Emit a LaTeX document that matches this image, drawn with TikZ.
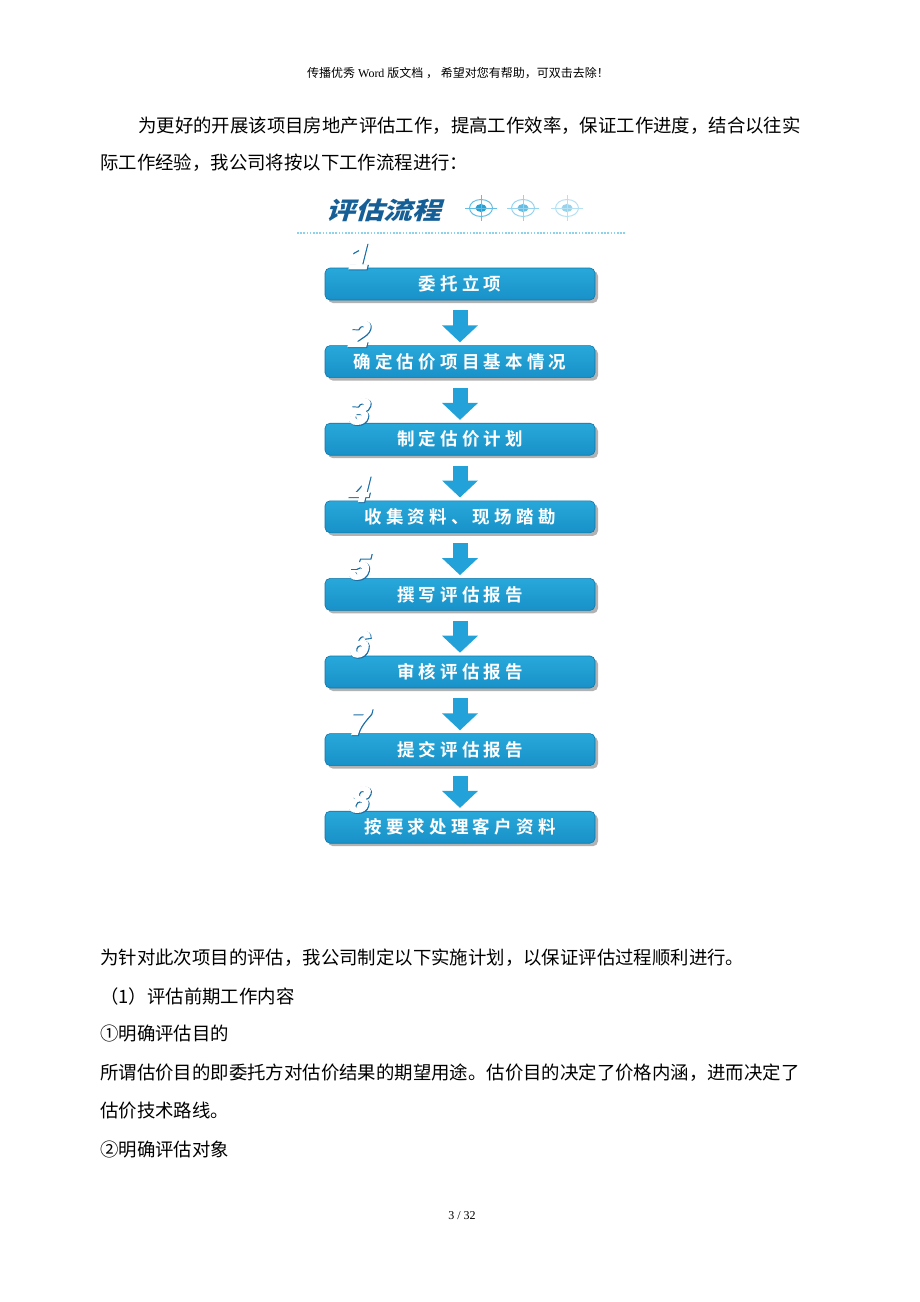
\documentclass[tikz,border=0pt]{standalone}
\usepackage{fontspec}
\setmainfont{Liberation Serif}
\newfontfamily\cjk{Noto Sans CJK SC}
\newfontfamily\cjkbox[LetterSpace=24]{Noto Sans CJK SC Bold}
\newfontfamily\cjktitle[FakeSlant=0.3,FakeStretch=1.2]{Noto Sans CJK SC Black}
\newfontfamily\numfill[FakeSlant=0.25,FakeBold=4]{Liberation Sans Bold}
\newfontfamily\numedge[FakeSlant=0.25,FakeBold=5.2]{Liberation Sans Bold}
\usetikzlibrary{arrows.meta,shadows,positioning}

\definecolor{titleblue}{RGB}{22,95,150}
\definecolor{boxtop}{RGB}{40,168,218}
\definecolor{boxbot}{RGB}{24,145,200}
\definecolor{boxedge}{RGB}{16,118,168}
\definecolor{arrowblue}{RGB}{35,162,218}
\definecolor{numblue}{RGB}{25,110,165}
\definecolor{dotblue}{RGB}{140,210,235}
\definecolor{iconA}{RGB}{40,160,210}
\definecolor{iconB}{RGB}{100,190,228}
\definecolor{iconC}{RGB}{150,212,238}

\newcommand{\flownum}[1]{\makebox[0pt][l]{\hspace{0.8pt}\raisebox{-0.8pt}{\color{numblue}\numedge #1}}{\color{white}\numfill #1}}

\begin{document}
\begin{tikzpicture}[x=1pt,y=-1pt,
	body/.style={inner sep=0pt,font=\cjk\fontsize{18.4}{20}\selectfont},
	stepbox/.style={rectangle,rounded corners=5pt,minimum width=270pt,minimum height=32pt,
		top color=boxtop,bottom color=boxbot,draw=boxedge,line width=0.6pt,
		drop shadow={shadow xshift=3pt,shadow yshift=-3pt,fill=black!60,opacity=0.5},
		text=white,inner sep=0pt,font=\cjkbox\fontsize{17.5}{18}\selectfont},
	stepnum/.style={inner sep=0pt,font=\fontsize{36}{36}\selectfont},
	flowarrow/.style={draw=arrowblue,line width=15pt,-{Triangle[width=35pt,length=17pt]},
		shorten <=10pt,shorten >=3pt}]
	\fill[white](0,0)rectangle(920,1302);
	\useasboundingbox (0,0) rectangle (920,1302);
	
	% header and page number
	\node (head) at (458,73){\fontsize{12}{12}\selectfont{\cjk 传播优秀}~Word~{\cjk 版文档 ， 希望对您有帮助，可双击去除！}};
	\node (pg) at (462,1216){\fontsize{12}{12}\selectfont 3 / 32};
	
	\node[body] (p1) at (138,126)[right]{为更好的开展该项目房地产评估工作，提高工作效率，保证工作进度，结合以往实};
	\node[body] (p2) at (100,163)[right]{际工作经验，我公司将按以下工作流程进行：};
	
	% title
	\node[inner sep=0pt,text=titleblue,font=\cjktitle\fontsize{24}{24}\selectfont] (title) at (326,210)[right]{评估流程};
	\draw[iconB,line width=1pt](481,208) ellipse (11.5 and 8.5);
	\fill[iconA](481,208) ellipse (5.5 and 4);
	\draw[iconB,line width=0.4pt](465,208)--(497,208) (481,195)--(481,221);
	\draw[iconC,line width=1pt](523,208) ellipse (11.5 and 8.5);
	\fill[iconB](523,208) ellipse (5.5 and 4);
	\draw[iconC,line width=0.4pt](507,208)--(539,208) (523,195)--(523,221);
	\draw[iconC!70,line width=1pt](567,208) ellipse (11.5 and 8.5);
	\fill[iconC](567,208) ellipse (5.5 and 4);
	\draw[iconC!70,line width=0.4pt](551,208)--(583,208) (567,195)--(567,221);
	\draw[dotblue,line width=2pt,dash pattern=on 1.6pt off 1.6pt](297,233)--(625,233);
	
	% flow boxes
	\node[stepbox] (b1) at (460,284){委托立项};
	\node[stepbox] (b2) at (460,361.6){确定估价项目基本情况};
	\node[stepbox] (b3) at (460,439.2){制定估价计划};
	\node[stepbox] (b4) at (460,516.8){收集资料、现场踏勘};
	\node[stepbox] (b5) at (460,594.4){撰写评估报告};
	\node[stepbox] (b6) at (460,672){审核评估报告};
	\node[stepbox] (b7) at (460,749.6){提交评估报告};
	\node[stepbox] (b8) at (460,827.2){按要求处理客户资料};
	
	\node[stepnum] (n1) at ([xshift=-103pt,yshift=11pt]b1.north){\flownum{1}};
	\node[stepnum] (n2) at ([xshift=-103pt,yshift=11pt]b2.north){\flownum{2}};
	\node[stepnum] (n3) at ([xshift=-103pt,yshift=11pt]b3.north){\flownum{3}};
	\node[stepnum] (n4) at ([xshift=-103pt,yshift=11pt]b4.north){\flownum{4}};
	\node[stepnum] (n5) at ([xshift=-103pt,yshift=11pt]b5.north){\flownum{5}};
	\node[stepnum] (n6) at ([xshift=-103pt,yshift=11pt]b6.north){\flownum{6}};
	\node[stepnum] (n7) at ([xshift=-103pt,yshift=11pt]b7.north){\flownum{7}};
	\node[stepnum] (n8) at ([xshift=-103pt,yshift=11pt]b8.north){\flownum{8}};
	
	\draw[flowarrow](b1.south)--(b2.north);
	\draw[flowarrow](b2.south)--(b3.north);
	\draw[flowarrow](b3.south)--(b4.north);
	\draw[flowarrow](b4.south)--(b5.north);
	\draw[flowarrow](b5.south)--(b6.north);
	\draw[flowarrow](b6.south)--(b7.north);
	\draw[flowarrow](b7.south)--(b8.north);
	
	\node[body] (q1) at (100,958)[right]{为针对此次项目的评估，我公司制定以下实施计划，以保证评估过程顺利进行。};
	\node[body] (q2) at (100,996)[right]{（1）评估前期工作内容};
	\node[body] (q3) at (100,1034)[right]{①明确评估目的};
	\node[body] (q4) at (100,1073)[right]{所谓估价目的即委托方对估价结果的期望用途。估价目的决定了价格内涵，进而决定了};
	\node[body] (q5) at (100,1111)[right]{估价技术路线。};
	\node[body] (q6) at (100,1150)[right]{②明确评估对象};
\end{tikzpicture}
\end{document}
